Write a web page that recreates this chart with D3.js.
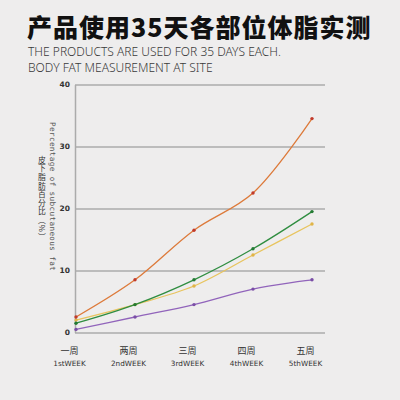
<!DOCTYPE html>
<html>
<head>
<meta charset="utf-8">
<script src="https://cdn.jsdelivr.net/npm/d3@7"></script>
<style>
  body { margin: 0; background: #eeeded; }
  svg { display: block; }
</style>
</head>
<body>
<script>
let weeksCn = ["一周", "两周", "三周", "四周", "五周"];
let weeksEn = ["1stWEEK", "2ndWEEK", "3rdWEEK", "4thWEEK", "5thWEEK"];
let orangeVals = [2.5, 8.5, 16.5, 22.5, 34.5];
let greenVals = [1.5, 4.5, 8.5, 13.5, 19.5];
let yellowVals = [2, 4.5, 7.5, 12.5, 17.5];
let purpleVals = [0.5, 2.5, 4.5, 7, 8.5];
let yTicks = [0, 10, 20, 30, 40];

let series = [
  { vals: yellowVals, line: "#e8c45e", dot: "#e0b447" },
  { vals: purpleVals, line: "#9164bb", dot: "#7a4ea6" },
  { vals: greenVals, line: "#2f8d40", dot: "#237a33" },
  { vals: orangeVals, line: "#dd7a3a", dot: "#c23a2a" }
];

let w = 400, h = 400;
let svg = d3.select("body").append("svg")
  .attr("width", w).attr("height", h);

svg.append("rect").attr("width", w).attr("height", h).attr("fill", "#eeeded");

// titles
svg.append("text")
  .attr("x", 27).attr("y", 37)
  .attr("font-family", "Noto Sans CJK SC")
  .attr("font-weight", 900)
  .attr("font-size", 25)
  .attr("letter-spacing", 1)
  .attr("fill", "#111")
  .text("产品使用35天各部位体脂实测");

let sub = svg.append("text")
  .attr("font-family", "Noto Sans")
  .attr("font-weight", 300)
  .attr("font-size", 12)
  .attr("fill", "#3a3a3a");
sub.append("tspan").attr("x", 28).attr("y", 56).text("THE PRODUCTS ARE USED FOR 35 DAYS EACH.");
sub.append("tspan").attr("x", 28).attr("y", 72).text("BODY FAT MEASUREMENT AT SITE");

let x = d3.scalePoint().domain(weeksEn).range([76, 312]);
let y = d3.scaleLinear().domain([0, 40]).range([332.5, 84.5]);

// y axis with gridlines
let yAxis = svg.append("g")
  .attr("transform", "translate(75,0)")
  .call(d3.axisLeft(y).tickValues(yTicks).tickSizeInner(-250).tickSizeOuter(0).tickPadding(5));
yAxis.selectAll("line").attr("stroke", "#ababab").attr("stroke-width", 1.5);
yAxis.select(".domain").attr("stroke", "#ababab").attr("stroke-width", 1.5);
yAxis.selectAll("text")
  .attr("font-family", "DejaVu Sans")
  .attr("font-weight", "bold")
  .attr("font-size", 7.5)
  .attr("fill", "#333");

// x axis labels (two lines)
let xAxis = svg.append("g")
  .attr("transform", "translate(-7,340)")
  .call(d3.axisBottom(x).tickSize(0).tickPadding(0).tickFormat((d, i) => weeksCn[i]));
xAxis.select(".domain").remove();
xAxis.selectAll("text")
  .attr("y", 14)
  .attr("dy", 0)
  .attr("font-family", "Noto Sans CJK SC")
  .attr("font-size", 9)
  .attr("fill", "#333");
xAxis.selectAll(".tick").append("text")
  .attr("y", 26)
  .attr("font-family", "DejaVu Sans")
  .attr("font-size", 7.3)
  .attr("fill", "#333")
  .text(d => d);

// y axis title (vertical)
svg.append("text")
  .attr("x", 52).attr("y", 122)
  .attr("style", "writing-mode: vertical-rl;")
  .attr("font-family", "DejaVu Sans Mono")
  .attr("font-size", 7.6)
  .attr("letter-spacing", 0.4)
  .attr("fill", "#555")
  .text("Percentage of subcutaneous fat");
svg.append("text")
  .attr("x", 42).attr("y", 156)
  .attr("style", "writing-mode: vertical-rl;")
  .attr("font-family", "Noto Sans CJK SC")
  .attr("font-size", 7.8)
  .attr("letter-spacing", 0.8)
  .attr("fill", "#333")
  .text("皮下脂肪百分比（%）");

// lines
let line = d3.line()
  .x((d, i) => x(weeksEn[i]))
  .y(d => y(d))
  .curve(d3.curveCatmullRom.alpha(0.5));

series.forEach(s => {
  svg.append("path")
    .datum(s.vals)
    .attr("d", line)
    .attr("fill", "none")
    .attr("stroke", s.line)
    .attr("stroke-width", 1.3);
  svg.selectAll(null)
    .data(s.vals)
    .enter()
    .append("circle")
    .attr("cx", (d, i) => x(weeksEn[i]))
    .attr("cy", d => y(d))
    .attr("r", 1.7)
    .attr("fill", s.dot);
});
</script>
</body>
</html>
